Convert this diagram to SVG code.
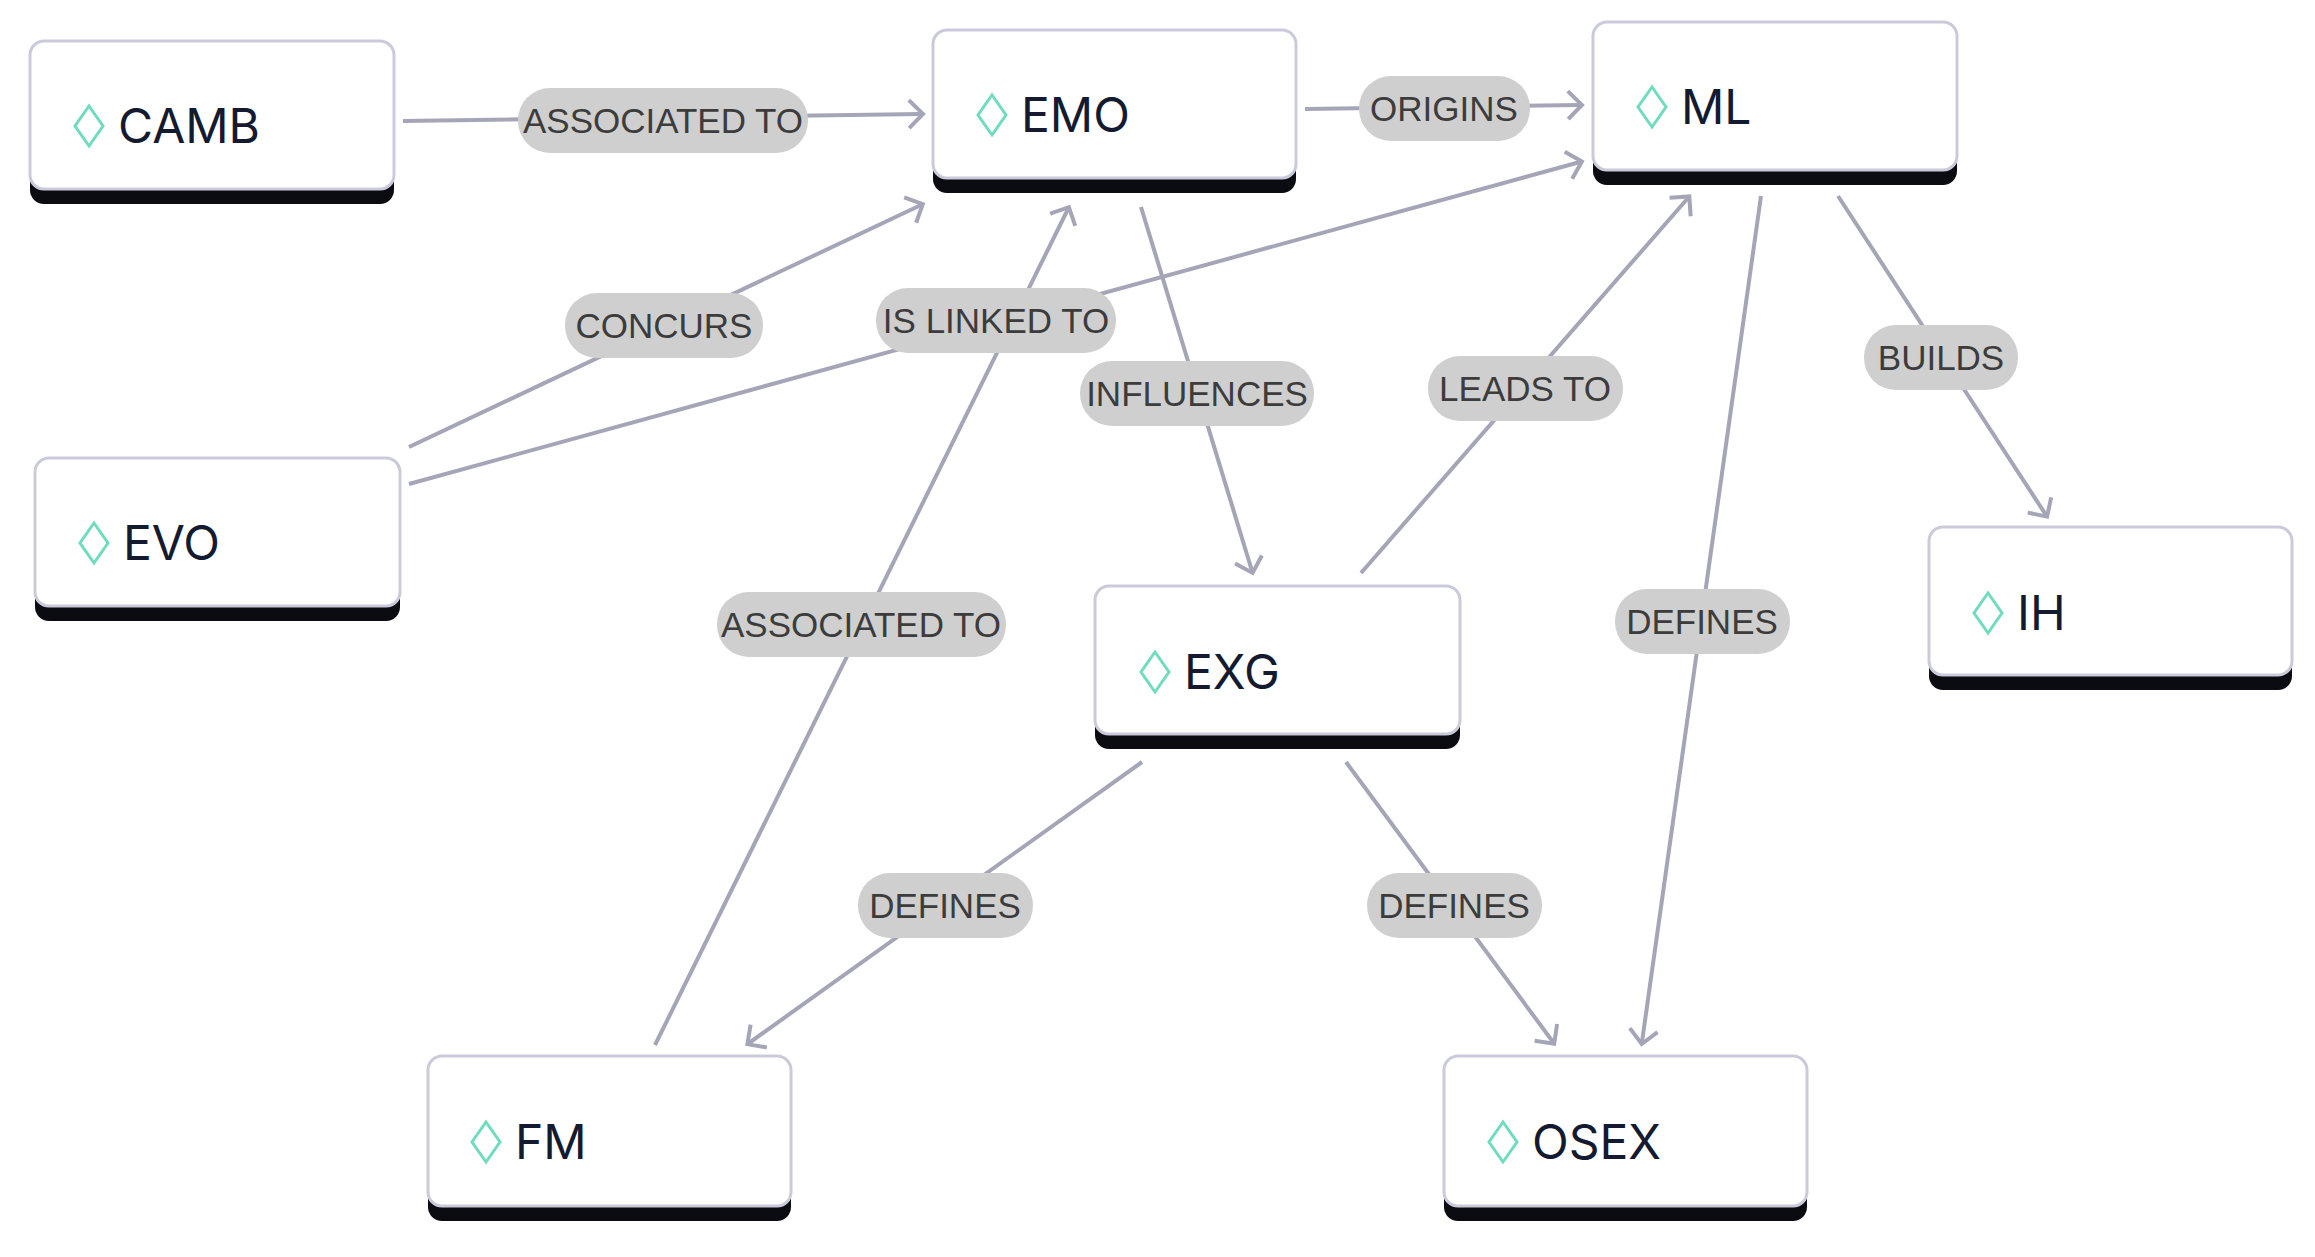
<svg xmlns="http://www.w3.org/2000/svg" width="2315" height="1257" viewBox="0 0 2315 1257">
<style>
.bar{fill:#0b0b12}
.card{fill:#fff;stroke:#c9cbdb;stroke-width:3}
.dia{fill:none;stroke:#6fdcc0;stroke-width:3}
.nt{font-family:Inter,"Liberation Sans",sans-serif;font-size:48px;fill:#141a30}
.lb{fill:#cfcfcf}
.lt{font-family:"Liberation Sans",Arial,sans-serif;font-size:35px;fill:#3c3c3c;text-anchor:middle}
.e{stroke:#a4a6b8;stroke-width:4;fill:none;marker-end:url(#ah)}
</style>
<defs>
<marker id="ah" markerUnits="userSpaceOnUse" markerWidth="40" markerHeight="40" refX="20" refY="20" orient="auto" viewBox="0 0 40 40">
<path d="M8,6 L22,20 L8,34" fill="none" stroke="#a4a6b8" stroke-width="4"/>
</marker>
</defs>
<rect width="2315" height="1257" fill="#fff"/>
<g id="connectors">
<line class="e" x1="403" y1="121" x2="921" y2="114"/>
<line class="e" x1="1305" y1="109" x2="1580" y2="105"/>
<line class="e" x1="409" y1="447" x2="921" y2="205"/>
<line class="e" x1="409" y1="484" x2="1580" y2="162"/>
<line class="e" x1="655" y1="1045" x2="1068" y2="209"/>
<line class="e" x1="1141" y1="207" x2="1252" y2="571"/>
<line class="e" x1="1361" y1="573" x2="1688" y2="198"/>
<line class="e" x1="1838" y1="196" x2="2046" y2="515"/>
<line class="e" x1="1761" y1="196" x2="1642" y2="1042"/>
<line class="e" x1="1142" y1="762" x2="749" y2="1043"/>
<line class="e" x1="1346" y1="762" x2="1553" y2="1042"/>
<g id="labels">
<rect class="lb" x="518" y="88" width="290" height="65" rx="32"/><text class="lt" x="663" y="133">ASSOCIATED TO</text>
<rect class="lb" x="1359" y="76" width="171" height="65" rx="32"/><text class="lt" x="1444" y="121">ORIGINS</text>
<rect class="lb" x="565" y="293" width="198" height="65" rx="32"/><text class="lt" x="664" y="338">CONCURS</text>
<rect class="lb" x="876" y="288" width="240" height="65" rx="32"/><text class="lt" x="996" y="333">IS LINKED TO</text>
<rect class="lb" x="1080" y="361" width="234" height="65" rx="32"/><text class="lt" x="1197" y="406">INFLUENCES</text>
<rect class="lb" x="1428" y="356" width="195" height="65" rx="32"/><text class="lt" x="1525" y="401">LEADS TO</text>
<rect class="lb" x="1864" y="325" width="154" height="65" rx="32"/><text class="lt" x="1941" y="370">BUILDS</text>
<rect class="lb" x="717" y="592" width="289" height="65" rx="32"/><text class="lt" x="861" y="637">ASSOCIATED TO</text>
<rect class="lb" x="1615" y="589" width="175" height="65" rx="32"/><text class="lt" x="1702" y="634">DEFINES</text>
<rect class="lb" x="858" y="873" width="175" height="65" rx="32"/><text class="lt" x="945" y="918">DEFINES</text>
<rect class="lb" x="1367" y="873" width="175" height="65" rx="32"/><text class="lt" x="1454" y="918">DEFINES</text>
</g>
</g>
<g id="CAMB"><rect class="bar" x="30" y="41" width="364" height="163" rx="14"/><rect class="card" x="30" y="41" width="364" height="148" rx="14"/><path class="dia" d="M89,106 L103,126 L89,146 L75,126 Z"/><text class="nt" x="118" y="143">CAMB</text></g>
<g id="EMO"><rect class="bar" x="933" y="30" width="363" height="163" rx="14"/><rect class="card" x="933" y="30" width="363" height="148" rx="14"/><path class="dia" d="M992,95 L1006,115 L992,135 L978,115 Z"/><text class="nt" x="1021" y="132">EMO</text></g>
<g id="ML"><rect class="bar" x="1593" y="22" width="364" height="163" rx="14"/><rect class="card" x="1593" y="22" width="364" height="148" rx="14"/><path class="dia" d="M1652,87 L1666,107 L1652,127 L1638,107 Z"/><text class="nt" x="1681" y="124">ML</text></g>
<g id="EVO"><rect class="bar" x="35" y="458" width="365" height="163" rx="14"/><rect class="card" x="35" y="458" width="365" height="148" rx="14"/><path class="dia" d="M94,523 L108,543 L94,563 L80,543 Z"/><text class="nt" x="123" y="560">EVO</text></g>
<g id="IH"><rect class="bar" x="1929" y="527" width="363" height="163" rx="14"/><rect class="card" x="1929" y="527" width="363" height="148" rx="14"/><path class="dia" d="M1988,593 L2002,613 L1988,633 L1974,613 Z"/><text class="nt" x="2017" y="630">IH</text></g>
<g id="EXG"><rect class="bar" x="1095" y="586" width="365" height="163" rx="14"/><rect class="card" x="1095" y="586" width="365" height="148" rx="14"/><path class="dia" d="M1155,652 L1169,672 L1155,692 L1141,672 Z"/><text class="nt" x="1184" y="689">EXG</text></g>
<g id="FM"><rect class="bar" x="428" y="1056" width="363" height="165" rx="14"/><rect class="card" x="428" y="1056" width="363" height="150" rx="14"/><path class="dia" d="M486,1122 L500,1142 L486,1162 L472,1142 Z"/><text class="nt" x="515" y="1159">FM</text></g>
<g id="OSEX"><rect class="bar" x="1444" y="1056" width="363" height="165" rx="14"/><rect class="card" x="1444" y="1056" width="363" height="150" rx="14"/><path class="dia" d="M1503,1122 L1517,1142 L1503,1162 L1489,1142 Z"/><text class="nt" x="1532" y="1159">OSEX</text></g>
</svg>
